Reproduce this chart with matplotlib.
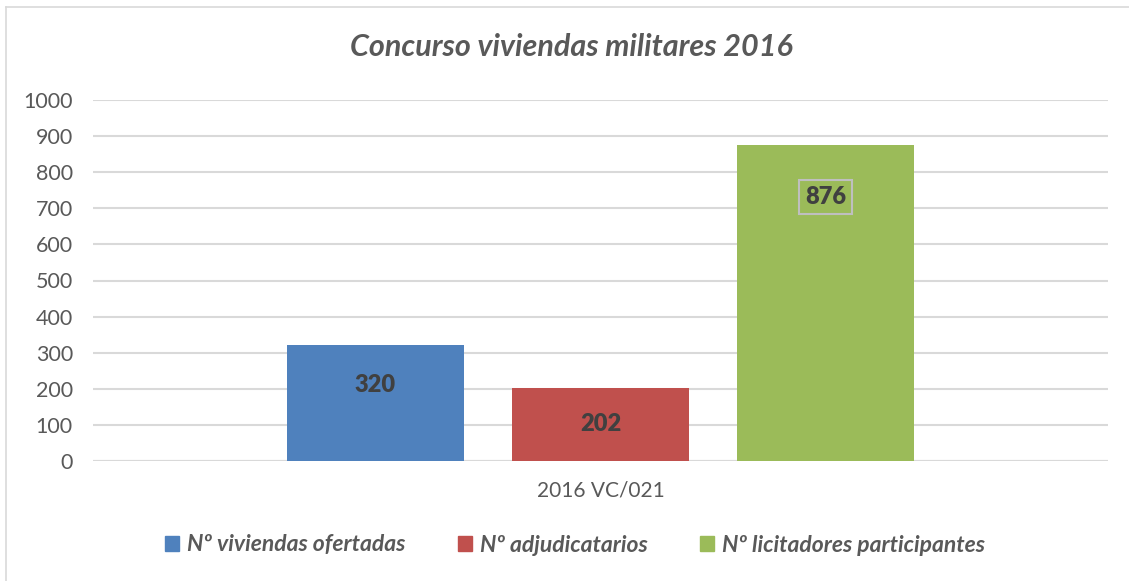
import matplotlib
matplotlib.use("Agg")
import matplotlib.pyplot as plt
from matplotlib.lines import Line2D

plt.rcParams['font.family'] = ['Lato', 'DejaVu Sans']

category = "2016 VC/021"
series = ["Nº viviendas ofertadas", "Nº adjudicatarios", "Nº licitadores participantes"]
values = [320, 202, 876]
colors = ["#4f81bd", "#c0504d", "#9bbb59"]
yticks = [0, 100, 200, 300, 400, 500, 600, 700, 800, 900, 1000]

W, H = 1129, 581
fig = plt.figure(figsize=(W / 100, H / 100), dpi=100)
ax = fig.add_axes([93 / W, 1 - 461 / H, (1108 - 93) / W, (461 - 100) / H])

text_col = "#595959"
grid_col = "#d9d9d9"

step = 225 / 1015
width = 177 / 1015
for i, (name, v, c) in enumerate(zip(series, values, colors)):
    x = (i - 1) * step
    ax.bar(x, v, width=width, color=c, label=name, zorder=3)

ax.set_xlim(-0.5, 0.5)
ax.set_ylim(0, 1000)
ax.set_yticks(yticks)
ax.set_yticklabels([str(t) for t in yticks], fontsize=15.5, color=text_col)
ax.tick_params(axis='y', length=0, pad=14.5)
ax.set_xticks([0])
ax.set_xticklabels([category], fontsize=15, color=text_col)
ax.tick_params(axis='x', length=0, pad=14)
ax.grid(axis='y', color=grid_col, linewidth=1.5, zorder=0)
for s in ax.spines.values():
    s.set_visible(False)
ax.axhline(0, color=grid_col, linewidth=1.5, zorder=2)

# etiquetas de datos
lab_kw = dict(ha='center', va='center', fontsize=17, fontweight='heavy', color="#404040", zorder=4)
ax.text(-step, 210, str(values[0]), **lab_kw)
ax.text(0, 102, str(values[1]), **lab_kw)
ax.text(step, 731, str(values[2]), **lab_kw,
        bbox=dict(boxstyle='square,pad=0.25', facecolor='none', edgecolor='#bfbfbf', linewidth=1.5))

fig.text(571 / W, 1 - 47 / H, "Concurso viviendas militares 2016", ha='center', va='center',
         fontsize=22, fontstyle='italic', fontweight='bold', color=text_col)

handles = [plt.Rectangle((0, 0), 1, 1, color=c) for c in colors]
leg = fig.legend(handles, series, loc='center', bbox_to_anchor=(575 / W, 1 - 545 / H), ncol=3,
                 frameon=False, handlelength=0.6, handleheight=0.6, columnspacing=2.3, handletextpad=0.35,
                 prop=dict(size=16.5, style='italic', weight='bold'))
for t in leg.get_texts():
    t.set_color(text_col)

# borde del gráfico
fig.add_artist(Line2D([6 / W, 6 / W], [0, 1 - 7 / H], color=grid_col, linewidth=1.2))
fig.add_artist(Line2D([6 / W, 1], [1 - 7 / H, 1 - 7 / H], color=grid_col, linewidth=1.2))

fig.savefig("out.png", dpi=100)
